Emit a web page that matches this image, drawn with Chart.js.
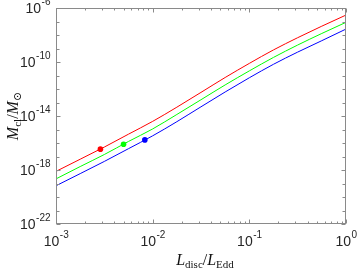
<!DOCTYPE html>
<html>
<head>
<meta charset="utf-8">
<script src="https://cdn.jsdelivr.net/npm/chart.js@4.4.0/dist/chart.umd.min.js"></script>
<style>
  html, body { margin: 0; padding: 0; background: #fff; }
  canvas { display: block; }
</style>
</head>
<body>
<canvas id="massChart" width="357" height="270"></canvas>
<script>
// L_disc / L_Edd sample points
const lumRatio = [0.001, 0.00178, 0.00316, 0.00562, 0.01, 0.0178, 0.0316, 0.0562, 0.1, 0.178, 0.316, 0.562, 1];

// M_cl / M_sun for the three curves
const massRed   = [7.9e-19, 6.3e-18, 5.0e-17, 4.5e-16, 4.0e-15, 4.5e-14, 5.6e-13, 7.1e-12, 7.9e-11, 7.9e-10, 6.3e-9, 4.5e-8, 3.0e-7];
const massGreen = [2.2e-19, 1.8e-18, 1.4e-17, 1.3e-16, 1.1e-15, 1.3e-14, 1.6e-13, 2.0e-12, 2.2e-11, 2.2e-10, 1.8e-9, 1.3e-8, 8.7e-8];
const massBlue  = [6.8e-20, 5.4e-19, 4.3e-18, 3.8e-17, 3.4e-16, 3.8e-15, 4.8e-14, 6.0e-13, 6.8e-12, 6.8e-11, 5.4e-10, 3.8e-9, 2.75e-8];

// marked points on each curve (red, green, blue)
const dotLum  = [0.00288, 0.0050, 0.0083];
const dotMass = [3.5e-17, 8.1e-17, 1.7e-16];

// ticks
const xTickValues = [0.001, 0.01, 0.1, 1];
const xTickExp = ['-3', '-2', '-1', '0'];
const xMinorTicks = [0.002, 0.003, 0.004, 0.005, 0.006, 0.007, 0.008, 0.009,
                     0.02, 0.03, 0.04, 0.05, 0.06, 0.07, 0.08, 0.09,
                     0.2, 0.3, 0.4, 0.5, 0.6, 0.7, 0.8, 0.9];
const yTickValues = [1e-6, 1e-10, 1e-14, 1e-18, 1e-22];
const yTickExp = ['-6', '-10', '-14', '-18', '-22'];
const yMinorTicks = [1e-7, 1e-8, 1e-9, 1e-11, 1e-12, 1e-13, 1e-15, 1e-16, 1e-17,
                     1e-19, 1e-20, 1e-21];

const colors = ['#ff0000', '#00ff00', '#0000ff'];

function toPoints(xs, ys) {
    return xs.map((v, i) => ({ x: v, y: ys[i] }));
}

//! ===================== axes box, ticks, labels =====================
function drawPow(ctx, exp, x, y, align) {
    ctx.font = '14px "Liberation Sans", Arial, sans-serif';
    const wBase = ctx.measureText('10').width;
    ctx.font = '10px "Liberation Sans", Arial, sans-serif';
    const wExp = ctx.measureText(exp).width;
    const total = wBase + wExp;
    let left = x;
    if (align === 'right') left = x - total;
    if (align === 'center') left = x - total / 2;
    ctx.textAlign = 'left';
    ctx.textBaseline = 'middle';
    ctx.font = '14px "Liberation Sans", Arial, sans-serif';
    ctx.fillText('10', left, y);
    ctx.font = '10px "Liberation Sans", Arial, sans-serif';
    ctx.fillText(exp, left + wBase + 0.5, y - 7);
}

// draws math-like text pieces: [text, italic, sub]
function drawMath(ctx, parts, x, y) {
    let w = 0;
    const fonts = parts.map(p => {
        const size = p[2] ? 11 : 16;
        const f = (p[1] ? 'italic ' : '') + size + 'px "Liberation Serif", "DejaVu Serif", serif';
        ctx.font = f;
        w += ctx.measureText(p[0]).width;
        return f;
    });
    let cx = x - w / 2;
    ctx.textAlign = 'left';
    ctx.textBaseline = 'alphabetic';
    parts.forEach((p, i) => {
        ctx.font = fonts[i];
        ctx.fillText(p[0], cx, y + (p[2] ? 3 : 0));
        cx += ctx.measureText(p[0]).width;
    });
}

const axesBox = {
    id: 'axesBox',
    afterDraw(chart) {
        const { ctx, chartArea: a, scales: { x, y } } = chart;
        const L = Math.round(a.left) + 0.5, R = Math.round(a.right) - 0.5;
        const T = Math.round(a.top) + 0.5, B = Math.round(a.bottom) - 0.5;
        ctx.save();
        ctx.strokeStyle = '#8a8a8a';
        ctx.lineWidth = 1;
        ctx.strokeRect(L, T, R - L, B - T);

        ctx.beginPath();
        const xt = (v, len) => {
            const px = Math.round(x.getPixelForValue(v)) + 0.5;
            ctx.moveTo(px, B); ctx.lineTo(px, B - len);
            ctx.moveTo(px, T); ctx.lineTo(px, T + len);
        };
        const yt = (v, len) => {
            const py = Math.round(y.getPixelForValue(v)) + 0.5;
            ctx.moveTo(L, py); ctx.lineTo(L + len, py);
            ctx.moveTo(R, py); ctx.lineTo(R - len, py);
        };
        xTickValues.forEach(v => xt(v, 4));
        xMinorTicks.forEach(v => xt(v, 2));
        yTickValues.forEach(v => yt(v, 4));
        yMinorTicks.forEach(v => yt(v, 3));
        ctx.stroke();

        ctx.fillStyle = '#262626';
        xTickValues.forEach((v, i) => drawPow(ctx, xTickExp[i], x.getPixelForValue(v), 242, 'center'));
        yTickValues.forEach((v, i) => drawPow(ctx, yTickExp[i], 50, y.getPixelForValue(v) + 1, 'right'));

        // axis titles
        ctx.fillStyle = '#111';
        drawMath(ctx, [['L', true, false], ['disc', false, true], ['/', false, false],
                       ['L', true, false], ['Edd', false, true]], (a.left + a.right) / 2 + 4, 265);
        ctx.translate(18, (a.top + a.bottom) / 2);
        ctx.rotate(-Math.PI / 2);
        drawMath(ctx, [['M', true, false], ['cl', false, true], ['/', false, false],
                       ['M', true, false], ['\u2299', false, true]], 0, 0);
        ctx.restore();
    }
};

//! ========================== chart ==========================
const lineSet = (data, color) => ({
    data: data,
    showLine: true,
    borderColor: color,
    borderWidth: 1,
    pointRadius: 0,
    cubicInterpolationMode: 'monotone',
    fill: false
});

new Chart(document.getElementById('massChart').getContext('2d'), {
    type: 'scatter',
    data: {
        datasets: [
            lineSet(toPoints(lumRatio, massRed), colors[0]),
            lineSet(toPoints(lumRatio, massGreen), colors[1]),
            lineSet(toPoints(lumRatio, massBlue), colors[2]),
            {
                data: toPoints(dotLum, dotMass),
                showLine: false,
                pointRadius: 2.8,
                pointBackgroundColor: colors,
                pointBorderColor: colors,
                pointBorderWidth: 0
            }
        ]
    },
    options: {
        responsive: false,
        animation: false,
        devicePixelRatio: 1,
        layout: { padding: { left: 56, right: 11, top: 8, bottom: 46 } },
        plugins: { legend: { display: false }, tooltip: { enabled: false } },
        scales: {
            x: { type: 'logarithmic', min: 0.001, max: 1, display: false },
            y: { type: 'logarithmic', min: 1e-22, max: 1e-6, display: false }
        }
    },
    plugins: [axesBox]
});
</script>
</body>
</html>
